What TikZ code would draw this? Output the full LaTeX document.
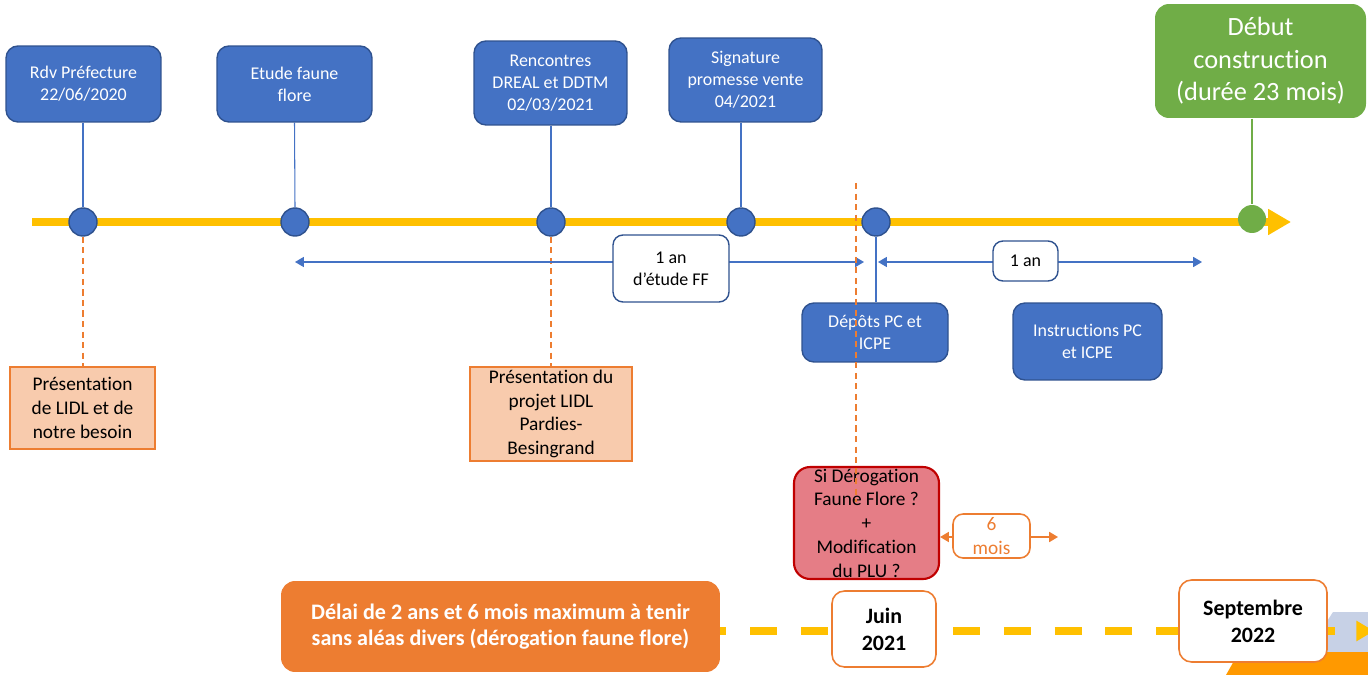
\documentclass[tikz,border=0pt]{standalone}
\usepackage{fontspec}
\setmainfont[Ligatures=NoCommon]{Carlito}
\usepackage{xcolor}
\usetikzlibrary{arrows.meta,shapes,calc,positioning}
\definecolor{bleu}{HTML}{4472C4}
\definecolor{bleufonce}{HTML}{2F528F}
\definecolor{jaune}{HTML}{FFC000}
\definecolor{vert}{HTML}{70AD47}
\definecolor{orangepp}{HTML}{ED7D31}
\definecolor{saumon}{HTML}{F8CBAD}
\definecolor{rose}{HTML}{E57D86}
\definecolor{rougefonce}{HTML}{C00000}
\definecolor{grisbleu}{HTML}{C7D1E6}
\definecolor{orangevif}{HTML}{FF9900}
\pgfdeclarelayer{fond}
\pgfsetlayers{fond,main}

\begin{document}
\begin{tikzpicture}[x=0.02cm,y=-0.02cm]
	\tikzstyle{every node}=[font=\fontsize{10.2}{12.4}\selectfont, align=center, inner sep=0pt]
	\tikzstyle{etape}=[draw=bleufonce, line width=0.8pt, fill=bleu, text=white, rounded corners=0.24cm]
	\tikzstyle{jalon}=[circle, draw=bleufonce, line width=0.8pt, fill=bleu, minimum size=0.56cm]
	\tikzstyle{reunion}=[draw=orangepp, line width=1.6pt, fill=saumon, font=\fontsize{11}{13.5}\selectfont]
	\tikzstyle{duree}=[draw=bleufonce, line width=0.8pt, fill=white, rounded corners=0.2cm]
	\tikzstyle{date}=[draw=orangepp, line width=0.9pt, fill=white, rounded corners=0.25cm, font=\bfseries\fontsize{12.5}{15.5}\selectfont]
	\tikzstyle{lien}=[bleu, line width=0.6pt]
	\tikzstyle{pointille}=[orangepp, line width=0.9pt, dash pattern=on 3.5pt off 2.5pt]
	\tikzstyle{fleche}=[bleu, line width=0.6pt, {Triangle[length=5pt,width=5.7pt]}-{Triangle[length=5pt,width=5.7pt]}]

	\useasboundingbox (0,0) rectangle (1368,675);

	\coordinate (t0) at (32,222);
	\coordinate (t1) at (1291,222);
	\coordinate (fa) at (295,262);
	\coordinate (fb) at (864,262);
	\coordinate (ga) at (878,262);
	\coordinate (gb) at (1202,262);
	\coordinate (hb) at (1058,537);
	\coordinate (d1) at (1374,631);
	\coordinate (v0) at (856,183);
	\coordinate (v1) at (856,502);

	\node [etape, minimum width=3.1cm, minimum height=1.52cm] (rdv) at (83.5,84) {Rdv Préfecture\\22/06/2020};
	\node [etape, minimum width=3.1cm, minimum height=1.52cm] (etude) at (294.5,84) {Etude faune\\flore};
	\node [etape, minimum width=3.06cm, minimum height=1.68cm] (rencontres) at (550.5,83) {Rencontres\\DREAL et DDTM\\02/03/2021};
	\node [etape, minimum width=3.06cm, minimum height=1.68cm] (signature) at (745.5,80) {Signature\\promesse vente\\04/2021};
	\node [etape, minimum width=2.92cm, minimum height=1.18cm] (depots) at (875,332.5) {Dépôts PC et\\ICPE};
	\node [etape, minimum width=2.98cm, minimum height=1.54cm] (instructions) at (1087.5,341.5) {Instructions PC\\et ICPE};
	\node [etape, draw=none, fill=vert, rounded corners=0.28cm, minimum width=4.22cm, minimum height=2.28cm, font=\fontsize{15}{18.4}\selectfont] (debut) at (1260.5,61) {Début\\construction\\(durée 23 mois)};

	\node [jalon] (j1) at (83,222) {};
	\node [jalon] (j2) at (295,222) {};
	\node [jalon] (j3) at (551,222) {};
	\node [jalon] (j4) at (741,222) {};
	\node [jalon] (j5) at (876,222) {};
	\node [jalon, draw=none, fill=vert] (j6) at (1252,219) {};

	\node [reunion, minimum width=2.9cm, minimum height=1.64cm] (pres1) at (82.5,408) {Présentation\\de LIDL et de\\notre besoin};
	\node [reunion, minimum width=3.24cm, minimum height=1.88cm] (pres2) at (551,414) {Présentation du\\projet LIDL\\Pardies-\\Besingrand};

	\node [duree, minimum width=2.32cm, minimum height=1.34cm] (etudeff) at (671,268.5) {1 an\\d’étude FF};
	\node [duree, minimum width=1.3cm, minimum height=0.8cm] (instruction) at (1025.5,261) {1 an};

	\node [draw=rougefonce, line width=1.2pt, fill=rose, rounded corners=0.32cm, minimum width=2.9cm, minimum height=2.24cm, font=\fontsize{11}{13.5}\selectfont] (rouge) at (866.5,523) {Si Dérogation\\Faune Flore ?\\+\\Modification\\du PLU ?};
	\node [draw=orangepp, line width=0.9pt, fill=white, text=orangepp, rounded corners=0.2cm, minimum width=1.54cm, minimum height=0.88cm, font=\fontsize{11}{13.5}\selectfont] (sixmois) at (991.5,536) {6\\mois};

	\node [fill=orangepp, text=white, rounded corners=0.28cm, minimum width=8.78cm, minimum height=1.82cm, font=\bfseries\fontsize{12.6}{14.8}\selectfont] (delai) at (500.5,626.5) {Délai de 2 ans et 6 mois maximum à tenir\\sans aléas divers (dérogation faune flore)};
	\node [date, minimum width=2.08cm, minimum height=1.52cm] (juin) at (884,629) {Juin\\2021};
	\node [date, minimum width=2.96cm, minimum height=1.64cm] (septembre) at (1253,621) {Septembre\\2022};

	\begin{pgfonlayer}{fond}
		\fill [grisbleu] (1333,612) -- (1368,612) -- (1368,652) -- (1307,652) -- cycle;
		\fill [orangevif] (1239,652) -- (1368,652) -- (1368,675) -- (1226,675) -- cycle;
		\draw [jaune, line width=4.5pt, -{Triangle[length=13pt,width=14pt]}] (t0) -- (t1);
		\draw [jaune, line width=4.5pt, dash pattern=on 15.3pt off 13.6pt, dash phase=12pt, -{Triangle[length=10pt,width=11pt]}] (delai.east |- d1) -- (d1);
		\draw [lien] (rdv.south -| j1) -- (j1.north);
		\draw [lien] (etude.south) -- (j2.north);
		\draw [lien] (rencontres.south -| j3) -- (j3.north);
		\draw [lien] (signature.south -| j4) -- (j4.north);
		\draw [lien] (j5.south) -- (depots.north -| j5);
		\draw [vert, line width=0.6pt] (debut.south -| j6) -- (j6.north);
		\draw [pointille] (j1.south) -- (pres1.north -| j1);
		\draw [pointille] (j3.south) -- (pres2.north -| j3);
		\draw [fleche] (fa) -- (fb);
		\draw [fleche] (ga) -- (gb);
		\draw [orangepp, line width=0.9pt, {Triangle[length=5pt,width=5.7pt]}-{Triangle[length=5pt,width=5.7pt]}] (rouge.east |- hb) -- (hb);
	\end{pgfonlayer}
	\draw [pointille] (v0) -- (v1);
\end{tikzpicture}
\end{document}
